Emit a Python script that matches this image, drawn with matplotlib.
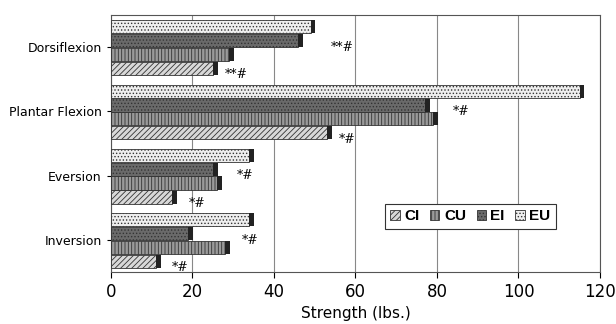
import numpy as np
import matplotlib.pyplot as plt

# data (top to bottom on the chart)
movements = ['Dorsiflexion', 'Plantar Flexion', 'Eversion', 'Inversion']
ci = [25, 53, 15, 11]
cu = [29, 79, 26, 28]
ei = [46, 77, 25, 19]
eu = [49, 115, 34, 34]

# significance marks next to the bars
marks = ['**#', '*#', '*#', '*#']
mark_hi_x = [54, 84, 31, 32]
mark_lo_x = [28, 56, 19, 15]

series = [('CI', ci, '#d8d8d8', '//////'),
          ('CU', cu, '#9a9a9a', '|||||'),
          ('EI', ei, '#6a6a6a', '.....'),
          ('EU', eu, '#eeeeee', '.....')]

plt.rcParams['hatch.linewidth'] = 0.6
fig = plt.figure(figsize=(6.16, 3.24), dpi=100)
ax = fig.add_axes([0.18, 0.16, 0.794, 0.794])

n = len(movements)
y = np.arange(n)[::-1].astype(float)
h = 0.205
for k, (lab, vals, col, hat) in enumerate(series):
    pos = y - 0.33 + k * 0.215
    ax.barh(pos, vals, height=h, color=col, hatch=hat, edgecolor='#333333',
            linewidth=0.6, label=lab, zorder=3)
    # dark end cap to imitate the 3D look
    ax.barh(pos, [1.2] * n, left=vals, height=h, color='#222222',
            linewidth=0, zorder=3)

for i in range(n):
    ax.text(mark_hi_x[i], y[i] + 0.0, marks[i], fontsize=9, family='DejaVu Serif',
            va='center', ha='left', zorder=4)
    ax.text(mark_lo_x[i], y[i] - 0.43, marks[i], fontsize=9, family='DejaVu Serif',
            va='center', ha='left', zorder=4)

ax.set_xlim(0, 120)
ax.set_ylim(-0.5, n - 0.5)
ax.set_xticks(np.arange(0, 121, 20))
ax.set_yticks(y)
ax.set_yticklabels(movements, fontsize=9)
ax.tick_params(axis='x', labelsize=12, length=4)
ax.tick_params(axis='y', length=3)
ax.xaxis.grid(True, color='#888888', linewidth=0.8, zorder=0)
ax.set_xlabel('Strength (lbs.)', fontsize=11)
for s in ax.spines.values():
    s.set_color('#555555')
    s.set_linewidth(0.8)

leg = ax.legend(loc='lower right', bbox_to_anchor=(0.925, 0.14), ncol=4,
                prop={'weight': 'bold', 'size': 11, 'family': 'Liberation Sans'},
                handlelength=0.6, handleheight=0.6, handletextpad=0.3,
                columnspacing=0.7, borderpad=0.35, fancybox=False,
                framealpha=1, edgecolor='#333333')
leg.get_frame().set_linewidth(0.8)

fig.savefig('out.png', dpi=100)
